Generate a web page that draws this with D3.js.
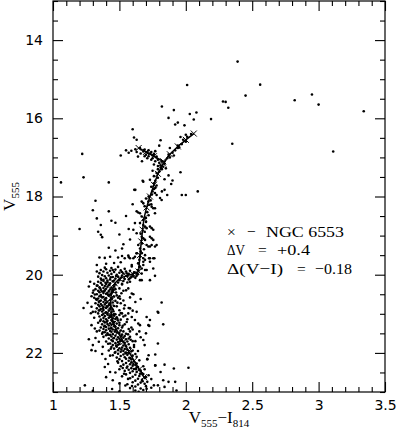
<!DOCTYPE html>
<html><head><meta charset="utf-8">
<script src="https://cdn.jsdelivr.net/npm/d3@7"></script>
<style>
html,body{margin:0;padding:0;background:#fff;}
svg{display:block;}
</style></head><body>
<svg id="chart" width="397" height="436"></svg>
<script>
// ---------- axis setup ----------
const xDomain = [1, 3.5];
const yDomain = [13, 23];
const xMajorTicks = [1, 1.5, 2, 2.5, 3, 3.5];
const xTickLabels = ["1", "1.5", "2", "2.5", "3", "3.5"];
const yMajorTicks = [14, 16, 18, 20, 22];
const yTickLabels = ["14", "16", "18", "20", "22"];

// ---------- NGC 6553 fiducial (ridge line with × markers) ----------
const ridgeColor = [2.06,2.00,1.94,1.88,1.83,1.79,1.76,1.73,1.705,1.685,1.675,1.665,1.655,1.645,1.60,1.55,1.50,1.465,1.445,1.435,1.435,1.44,1.455,1.49,1.53,1.57,1.61,1.65,1.685];
const ridgeV     = [16.39,16.55,16.72,16.92,17.16,17.42,17.70,18.00,18.28,18.56,18.85,19.15,19.50,19.92,19.98,20.03,20.10,20.22,20.40,20.60,20.82,21.05,21.25,21.48,21.72,21.96,22.20,22.42,22.62];
const clumpColor = [1.645,1.70,1.76,1.83];
const clumpV     = [16.76,16.86,16.97,17.10];

// ---------- stars (color V555-I814, magnitude V555) ----------
const starsBright = [[2.39,14.55],[2.56,15.14],[2.45,15.42],[2.28,15.57],[2.30,15.58],[2.32,15.73],[2.19,16.02],[2.35,16.65],[2.82,15.54],[2.95,15.39],[3.00,15.65],[3.11,16.85],[3.34,15.82],[2.01,15.15],[1.82,15.70],[1.91,15.79],[1.87,15.99],[1.94,16.11],[1.92,16.16],[2.03,15.89],[2.08,15.85],[2.06,16.03],[1.99,16.18],[1.60,16.28],[1.61,16.49],[1.63,16.55],[1.81,16.56],[1.96,16.48],[2.00,16.42],[1.95,16.74],[2.00,16.60]];

const starsLeft = [[1.22,16.91],[1.51,16.95],[1.23,17.51],[1.06,17.64],[1.42,17.64],[1.32,18.11],[1.30,18.35],[1.42,18.38],[1.33,18.56],[1.20,18.83],[1.36,18.73],[1.44,18.62],[1.47,18.67],[1.34,18.90],[1.36,18.98],[1.37,19.04],[1.50,18.97],[1.57,18.83],[1.42,19.31],[1.47,19.38],[1.53,19.22],[1.52,19.33],[1.35,19.56],[1.39,19.57],[1.43,19.54],[1.49,19.56],[1.52,19.52],[1.54,19.58],[1.57,19.55],[1.23,20.85],[1.24,22.83],[1.58,19.10],[1.55,18.50],[1.60,18.20],[1.46,19.70],[1.40,19.72],[1.51,19.68],[1.33,19.75]];

const starsClump = [[1.55,16.82],[1.57,16.88],[1.59,16.83],[1.62,16.79],[1.63,16.86],[1.655,16.76],[1.66,16.90],[1.68,16.85],[1.69,16.80],[1.70,16.93],[1.71,16.87],[1.72,16.82],[1.72,16.97],[1.73,16.90],[1.74,16.86],[1.75,16.95],[1.75,17.02],[1.76,16.91],[1.77,16.84],[1.78,16.98],[1.69,16.97],[1.71,17.02],[1.74,17.06],[1.77,17.10],[1.79,17.06],[1.80,17.14],[1.81,17.20],[1.82,17.10],[1.83,17.24],[1.84,17.16],[1.85,17.28],[1.82,17.30],[1.79,17.22],[1.86,17.02],[1.87,16.93],[1.88,16.76],[1.94,16.76],[1.80,16.70],[1.67,17.10],[1.64,16.98],[1.76,17.18]];

const starsRgb = [[2.04,16.40],[2.01,16.47],[1.98,16.55],[1.97,16.66],[1.94,16.70],[1.92,16.82],[1.90,16.88],[1.88,17.00],[1.91,16.95],
[1.75,17.34],[1.78,17.40],[1.80,17.36],[1.76,17.48],[1.79,17.52],[1.77,17.60],[1.73,17.57],[1.675,17.60],[1.76,17.66],[1.78,17.72],[1.74,17.75],[1.87,17.46],[1.90,17.59],[1.96,17.38],[1.84,17.56],[1.89,17.68],[1.84,17.83],[1.62,17.83],[1.68,17.62],
[1.612,17.83],[1.75,17.87],[1.76,17.81],[1.768,17.91],[1.78,17.96],[1.86,17.96],[1.97,17.96],[2.00,17.96],[2.09,17.87],[1.82,17.87],
[1.668,18.13],[1.68,18.17],[1.718,18.13],[1.735,18.10],[1.725,18.21],[1.743,18.26],[1.755,18.30],[1.768,18.30],[1.768,18.43],[1.806,18.04],[1.818,18.09],[1.63,18.38],[1.642,18.41],[1.655,18.43],[1.668,18.51],[1.68,18.60],[1.655,18.68],[1.68,18.73],[1.693,18.77],[1.705,18.81],[1.73,18.77],[1.743,18.81],[1.755,18.85],[1.617,18.68],[1.605,18.85],[1.63,18.94],[1.668,19.03],[1.68,19.07],[1.693,19.11],[1.73,19.03],[1.743,19.07],[1.755,19.11],[1.705,19.24],[1.718,19.28],[1.73,19.28],[1.743,19.24],[1.768,19.28],[1.78,19.24],[1.642,19.24],[1.655,19.33],[1.63,19.45],[1.668,19.45],[1.693,19.50],[1.73,19.58],[1.755,19.58],[1.605,19.58],[1.642,19.71],[1.68,19.67],
[1.72,18.00],[1.70,18.05],[1.69,18.25],[1.71,18.40],[1.70,18.55],[1.69,18.90],[1.66,18.95],[1.67,19.20],[1.66,19.40],[1.65,19.62],[1.65,19.80],[1.64,19.88],[1.685,19.35],[1.70,18.65],[1.72,18.48],[1.745,17.95],[1.77,17.78],[1.79,17.30],[1.81,17.26],[1.74,18.20]];

const starsSgb = [[1.36,19.88],[1.38,19.92],[1.40,19.86],[1.41,19.95],[1.43,19.90],[1.44,19.98],[1.46,19.93],[1.47,19.87],[1.48,20.00],[1.50,19.95],[1.51,19.89],[1.52,20.02],[1.53,19.97],[1.55,19.92],[1.56,20.04],[1.57,19.98],[1.58,19.90],[1.59,20.06],[1.60,20.01],[1.61,19.94],[1.62,20.08],[1.63,20.03],[1.35,19.96],[1.37,20.01],[1.39,20.04],[1.42,20.02],[1.45,20.06],[1.47,20.10],[1.49,20.05],[1.51,20.08],[1.54,20.11],[1.57,20.12],[1.34,20.05],[1.36,20.10],[1.38,20.13],[1.40,20.09],[1.43,20.12],[1.46,20.15],[1.50,20.14],[1.53,20.16],[1.44,19.83],[1.49,19.80],[1.39,19.82],[1.54,19.85],[1.33,19.92],[1.41,20.15],[1.45,19.88],[1.52,19.93],[1.58,20.09],[1.64,19.99]];

const starsUpperMs = [[1.34,20.18],[1.38,20.16],[1.41,20.19],[1.45,20.17],[1.49,20.20],
[1.31,20.23],[1.36,20.21],[1.40,20.24],[1.43,20.22],[1.47,20.25],[1.52,20.23],
[1.33,20.28],[1.37,20.26],[1.39,20.29],[1.42,20.27],[1.46,20.30],
[1.35,20.32],[1.38,20.34],[1.41,20.31],[1.44,20.33],[1.50,20.35],
[1.32,20.37],[1.36,20.39],[1.40,20.36],[1.43,20.38],[1.47,20.37],
[1.34,20.41],[1.37,20.43],[1.39,20.40],[1.42,20.42],[1.45,20.44],[1.53,20.41],
[1.30,20.46],[1.35,20.45],[1.38,20.47],[1.41,20.46],[1.44,20.48],
[1.33,20.50],[1.36,20.52],[1.40,20.49],[1.43,20.51],[1.48,20.53],
[1.35,20.55],[1.38,20.57],[1.42,20.54],[1.46,20.56],
[1.31,20.59],[1.34,20.61],[1.37,20.58],[1.40,20.60],[1.44,20.62],[1.49,20.59],
[1.33,20.64],[1.36,20.66],[1.39,20.63],[1.43,20.65],[1.47,20.67],
[1.35,20.68],[1.38,20.70],[1.41,20.69],[1.45,20.71],
[1.32,20.73],[1.36,20.75],[1.40,20.72],[1.43,20.74],[1.51,20.73],
[1.34,20.77],[1.37,20.79],[1.39,20.76],[1.42,20.78],[1.46,20.80],
[1.29,20.82],[1.35,20.81],[1.38,20.83],[1.41,20.82],[1.44,20.84],[1.48,20.81],
[1.33,20.86],[1.36,20.88],[1.40,20.85],[1.43,20.87],
[1.35,20.91],[1.38,20.90],[1.42,20.92],[1.45,20.89],[1.50,20.91],
[1.32,20.95],[1.37,20.94],[1.40,20.96],[1.44,20.97],
[1.34,20.99],[1.38,21.00],[1.41,20.98],[1.46,21.01],[1.52,20.99],
[1.27,20.30],[1.29,20.55],[1.26,20.72],[1.30,20.95],[1.28,20.18],
[1.52,20.25],[1.55,20.40],[1.58,20.58],[1.62,20.70],[1.54,20.78],[1.60,20.92],[1.66,20.62],[1.50,20.55],[1.56,20.20],[1.53,20.66],[1.57,20.85],[1.51,20.98]];

const starsMidMs = [[1.37,21.03],[1.41,21.02],[1.44,21.04],[1.47,21.01],[1.50,21.03],
[1.35,21.07],[1.39,21.06],[1.43,21.08],[1.46,21.05],[1.53,21.07],
[1.38,21.11],[1.42,21.10],[1.45,21.12],[1.48,21.09],
[1.36,21.15],[1.40,21.14],[1.44,21.16],[1.47,21.13],[1.51,21.15],[1.56,21.14],
[1.38,21.19],[1.41,21.18],[1.45,21.20],[1.49,21.17],
[1.34,21.23],[1.39,21.22],[1.43,21.24],[1.46,21.21],[1.50,21.23],
[1.37,21.27],[1.41,21.26],[1.44,21.28],[1.48,21.25],[1.54,21.27],
[1.39,21.31],[1.42,21.30],[1.46,21.32],[1.50,21.29],
[1.36,21.35],[1.40,21.34],[1.44,21.36],[1.47,21.33],[1.52,21.35],
[1.38,21.39],[1.42,21.38],[1.45,21.40],[1.49,21.37],[1.57,21.39],
[1.35,21.43],[1.40,21.42],[1.43,21.44],[1.47,21.41],[1.51,21.43],
[1.39,21.47],[1.44,21.46],[1.48,21.48],[1.53,21.45],
[1.37,21.51],[1.41,21.50],[1.45,21.52],[1.50,21.49],[1.55,21.51],
[1.40,21.55],[1.43,21.54],[1.47,21.56],[1.52,21.53],
[1.38,21.59],[1.44,21.58],[1.49,21.60],[1.54,21.57],[1.58,21.59]];

const starsLowMs = [[1.42,21.63],[1.46,21.62],[1.50,21.64],[1.53,21.61],[1.57,21.63],
[1.44,21.67],[1.48,21.66],[1.51,21.68],[1.55,21.65],
[1.40,21.71],[1.45,21.70],[1.49,21.72],[1.52,21.69],[1.56,21.71],[1.60,21.70],
[1.43,21.76],[1.47,21.75],[1.50,21.77],[1.54,21.74],
[1.45,21.80],[1.49,21.79],[1.53,21.81],[1.57,21.78],[1.61,21.80],
[1.44,21.85],[1.48,21.84],[1.52,21.86],[1.55,21.83],
[1.46,21.89],[1.50,21.88],[1.54,21.90],[1.58,21.87],
[1.42,21.94],[1.49,21.93],[1.53,21.95],[1.56,21.92],[1.60,21.94],
[1.47,21.98],[1.51,21.97],[1.55,21.99],[1.59,21.96],
[1.37,22.03],[1.49,22.02],[1.53,22.04],[1.57,22.01],[1.62,22.03],
[1.43,22.07],[1.45,22.06],[1.51,22.08],[1.56,22.05],[1.60,22.07],
[1.48,22.12],[1.54,22.11],[1.58,22.13],[1.63,22.10],
[1.50,22.16],[1.55,22.15],[1.59,22.17],[1.71,22.16]];

const starsBottomMs = [[1.52,22.21],[1.57,22.20],[1.61,22.22],[1.65,22.19],
[1.49,22.25],[1.55,22.26],[1.59,22.24],[1.63,22.27],
[1.53,22.30],[1.58,22.29],[1.62,22.31],[1.77,22.32],
[1.51,22.34],[1.56,22.35],[1.60,22.33],[1.64,22.36],[1.68,22.34],
[1.555,22.38],[1.59,22.39],[1.63,22.37],[1.91,22.40],[2.02,22.38],
[1.50,22.42],[1.57,22.43],[1.61,22.41],[1.65,22.44],[1.69,22.42],
[1.54,22.46],[1.60,22.47],[1.66,22.45],[1.43,22.49],
[1.47,22.50],[1.58,22.51],[1.63,22.49],[1.67,22.52],[1.81,22.49],
[1.55,22.55],[1.62,22.56],[1.68,22.54],[1.72,22.57],
[1.52,22.60],[1.60,22.61],[1.65,22.59],[1.70,22.62],
[1.58,22.65],[1.64,22.66],[1.69,22.64],[1.74,22.67],
[1.45,22.70],[1.62,22.71],[1.67,22.69],[1.83,22.70],[1.87,22.74],
[1.50,22.78],[1.60,22.75],[1.66,22.76],[1.71,22.74],[1.92,22.74],
[1.56,22.80],[1.64,22.81],[1.69,22.79],[1.76,22.83],[1.79,22.83],
[1.62,22.86],[1.70,22.85],[1.84,22.87],
[1.58,22.90],[1.66,22.91],[1.705,22.92],[1.74,22.89],
[1.30,22.97],[1.62,22.96],[1.93,22.96],[1.68,22.95],[1.50,22.98]];

const starsCoreExtra = [[1.395,20.205],[1.425,20.255],[1.355,20.345],[1.455,20.395],[1.385,20.425],[1.415,20.515],[1.365,20.565],[1.445,20.605],[1.395,20.655],[1.425,20.735],[1.345,20.695],[1.475,20.455],[1.315,20.505],[1.405,20.805],[1.375,20.865],[1.455,20.935],[1.395,20.975],[1.425,21.045],[1.485,21.125],[1.405,21.205],[1.455,21.255],[1.385,21.325],[1.435,21.375],[1.465,21.455],[1.415,21.535],[1.455,21.625],[1.505,21.705],[1.475,21.815],[1.515,21.915],[1.545,22.005],[1.575,22.125],[1.605,22.285],[1.625,22.415],[1.655,22.535],[1.675,22.725],[1.365,20.135],[1.435,20.065],[1.475,20.035],[1.555,19.965],[1.605,20.045],[1.335,20.275],[1.325,20.625],[1.345,20.915],[1.355,21.185],[1.375,21.475],[1.505,20.615],[1.485,20.715],[1.515,20.475],[1.535,20.865],[1.545,21.045],[1.525,21.305],[1.565,21.525],[1.585,21.665],[1.515,21.565],[1.415,21.765],[1.435,21.895],[1.465,21.995],[1.485,22.215],[1.525,22.385],[1.535,22.535],[1.565,22.665],[1.595,22.845],[1.645,22.995],[1.545,22.835],[1.445,22.925],[1.305,20.405],[1.285,20.985],[1.315,21.375],[1.345,21.715],[1.375,21.845],[1.395,22.155],[1.415,22.285]];

const starsField = [[1.567,19.51],[1.58,19.58],[1.617,19.54],[1.63,19.45],[1.655,19.54],[1.68,19.58],[1.693,19.62],[1.723,19.58],[1.73,19.67],[1.763,19.58],[1.642,19.71],[1.655,19.79],[1.668,19.84],[1.68,19.75],[1.593,19.75],[1.593,19.79],[1.63,19.97],[1.668,19.97],[1.693,19.88],[1.705,19.88],[1.755,19.84],[1.768,20.03],[1.73,20.14],[1.668,20.14],[1.655,20.14],[1.58,20.18],[1.567,20.35],[1.593,20.48],[1.605,20.50],[1.818,20.71],[1.788,20.95],[1.793,20.97],[1.83,21.27],[1.705,21.08],[1.63,20.95],[1.58,20.86],[1.567,20.99],[1.593,21.08],[1.555,21.21],[1.617,21.16],[1.642,21.25],[1.655,21.29],[1.718,21.29],[1.73,21.16],[1.725,21.31],[1.79,21.76],[1.68,21.67],[1.69,21.80],[1.60,21.40],[1.63,21.52],[1.58,21.45],[1.66,21.60],[1.62,21.70],[1.59,21.35],[1.65,21.45],[1.70,21.50],[1.61,21.85],[1.64,21.95],[1.72,22.06],[1.77,22.04],[1.71,22.16],[1.84,22.30],[1.77,22.32],[1.29,21.29],[1.27,21.65],[1.32,21.62],[1.29,21.93],[1.32,21.95],[1.31,21.10],[1.33,21.45],[1.30,21.80],[1.39,22.36],[1.40,22.62]];

// ---------- annotation: text, x offset, width ----------
const legendLines = [
  [["×", 0, 0], ["−", 20, 0], ["NGC 6553", 39, 78]],
  [["ΔV", 0, 18], ["=", 31, 0], ["+0.4", 50, 33]],
  [["Δ(V−I)", 0, 56], ["=", 70, 0], ["−0.18", 88, 37]]
];

// ---------- drawing ----------
const W = 397, H = 436;
const m = {l: 53, r: 12, t: 1, b: 44};
const svg = d3.select("#chart");
const x = d3.scaleLinear().domain(xDomain).range([m.l, W - m.r]);
const y = d3.scaleLinear().domain(yDomain).range([m.t, H - m.b]);

const xMinor = d3.range(10, 36).map(d => d / 10).filter(d => !xMajorTicks.some(t => Math.abs(t - d) < 1e-9));
const yMinor = d3.range(26, 47).map(d => d / 2).filter(d => !yMajorTicks.includes(d));

const tickFont = "'DejaVu Sans', 'Liberation Sans', sans-serif";
function styleAxis(g) {
  g.select(".domain").remove();
  g.selectAll(".tick line").attr("stroke", "#000").attr("stroke-width", 1.1);
  g.selectAll("text").attr("fill", "#000").style("font-family", tickFont).style("font-size", "14px");
}

// major + minor, all four sides, ticks pointing inward
svg.append("g").attr("transform", `translate(0,${H - m.b})`)
  .call(d3.axisBottom(x).tickValues(xMajorTicks).tickFormat((d, i) => xTickLabels[i]).tickSizeInner(-10).tickSizeOuter(0).tickPadding(8)).call(styleAxis);
svg.append("g").attr("transform", `translate(0,${H - m.b})`)
  .call(d3.axisBottom(x).tickValues(xMinor).tickFormat("").tickSizeInner(-5).tickSizeOuter(0)).call(styleAxis);
svg.append("g").attr("transform", `translate(0,${m.t})`)
  .call(d3.axisTop(x).tickValues(xMajorTicks).tickFormat("").tickSizeInner(-10).tickSizeOuter(0)).call(styleAxis);
svg.append("g").attr("transform", `translate(0,${m.t})`)
  .call(d3.axisTop(x).tickValues(xMinor).tickFormat("").tickSizeInner(-5).tickSizeOuter(0)).call(styleAxis);
svg.append("g").attr("transform", `translate(${m.l},0)`)
  .call(d3.axisLeft(y).tickValues(yMajorTicks).tickFormat((d, i) => yTickLabels[i]).tickSizeInner(-10).tickSizeOuter(0).tickPadding(10)).call(styleAxis);
svg.append("g").attr("transform", `translate(${m.l},0)`)
  .call(d3.axisLeft(y).tickValues(yMinor).tickFormat("").tickSizeInner(-5).tickSizeOuter(0)).call(styleAxis);
svg.append("g").attr("transform", `translate(${W - m.r},0)`)
  .call(d3.axisRight(y).tickValues(yMajorTicks).tickFormat("").tickSizeInner(-10).tickSizeOuter(0)).call(styleAxis);
svg.append("g").attr("transform", `translate(${W - m.r},0)`)
  .call(d3.axisRight(y).tickValues(yMinor).tickFormat("").tickSizeInner(-5).tickSizeOuter(0)).call(styleAxis);

// frame
svg.append("rect").attr("x", m.l).attr("y", m.t).attr("width", W - m.l - m.r).attr("height", H - m.t - m.b)
  .attr("fill", "none").attr("stroke", "#000").attr("stroke-width", 1.2);

// clip for stars
svg.append("clipPath").attr("id", "plotclip").append("rect")
  .attr("x", m.l).attr("y", m.t).attr("width", W - m.l - m.r).attr("height", H - m.t - m.b);
const plot = svg.append("g").attr("clip-path", "url(#plotclip)");

const allStars = [].concat(starsBright, starsLeft, starsClump, starsRgb, starsSgb, starsUpperMs, starsMidMs, starsLowMs, starsBottomMs, starsCoreExtra, starsField);
plot.selectAll("circle.star").data(allStars).join("circle").attr("class", "star")
  .attr("cx", d => x(d[0])).attr("cy", d => y(d[1])).attr("r", 1.3).attr("fill", "#000");

// fiducial lines
const line = d3.line().x(d => x(d[0])).y(d => y(d[1]));
const ridge = ridgeColor.map((c, i) => [c, ridgeV[i]]);
const clump = clumpColor.map((c, i) => [c, clumpV[i]]);
[ridge, clump].forEach(pts => {
  plot.append("path").datum(pts).attr("d", line).attr("fill", "none").attr("stroke", "#000").attr("stroke-width", 1.5);
  pts.forEach(p => {
    const cx = x(p[0]), cy = y(p[1]), s = 3;
    plot.append("path").attr("d", `M${cx - s},${cy - s}L${cx + s},${cy + s}M${cx - s},${cy + s}L${cx + s},${cy - s}`)
      .attr("stroke", "#000").attr("stroke-width", 1).attr("fill", "none");
  });
});

// annotation
const serif = "'Liberation Serif', 'DejaVu Serif', serif";
const legX = 227, legY0 = 236.5, legDy = 18.7;
legendLines.forEach((parts, li) => {
  parts.forEach(([txt, dx, w]) => {
    const t = svg.append("text").attr("x", legX + dx).attr("y", legY0 + li * legDy)
      .style("font-family", serif).style("font-size", "15.5px").attr("fill", "#000").text(txt);
    if (w) t.attr("textLength", w).attr("lengthAdjust", "spacingAndGlyphs");
  });
});

// axis titles
const xt = svg.append("text").attr("x", (m.l + W - m.r) / 2).attr("y", 423).attr("text-anchor", "middle")
  .style("font-family", serif).style("font-size", "17px").attr("fill", "#000");
xt.append("tspan").text("V");
xt.append("tspan").attr("dy", 4).style("font-size", "11px").text("555");
xt.append("tspan").attr("dy", -4).text("−I");
xt.append("tspan").attr("dy", 4).style("font-size", "11px").text("814");

const yt = svg.append("text").attr("transform", `translate(15,${(m.t + H - m.b) / 2}) rotate(-90)`).attr("text-anchor", "middle")
  .style("font-family", serif).style("font-size", "17px").attr("fill", "#000");
yt.append("tspan").text("V");
yt.append("tspan").attr("dy", 4).style("font-size", "11px").text("555");
</script>
</body></html>
